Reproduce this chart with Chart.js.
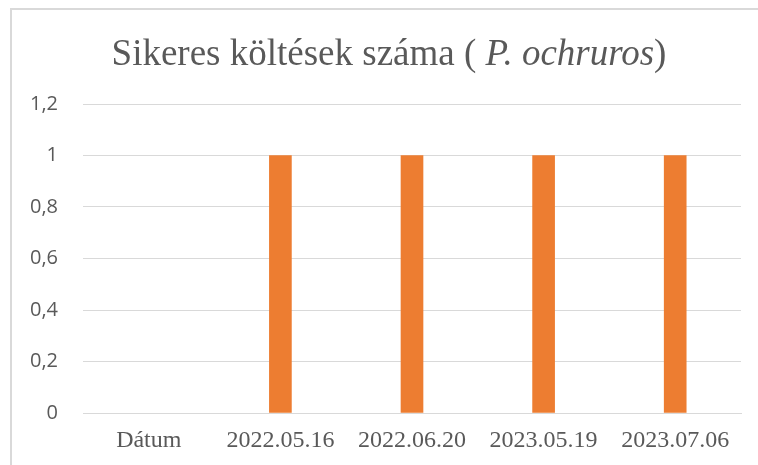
<!DOCTYPE html>
<html>
<head>
<meta charset="utf-8">
<script src="https://cdn.jsdelivr.net/npm/chart.js@4/dist/chart.umd.min.js"></script>
<style>
  html, body { margin: 0; padding: 0; background: #fff; }
  #wrap { position: relative; width: 758px; height: 465px; }
</style>
</head>
<body>
<div id="wrap"><canvas id="koltesChart" width="758" height="465"></canvas></div>
<script>
// Adatok
const categories = ['Dátum', '2022.05.16', '2022.06.20', '2023.05.19', '2023.07.06'];
const sikeresKoltesek = [null, 1, 1, 1, 1];
const yTicks = [0, 0.2, 0.4, 0.6, 0.8, 1, 1.2];

const titleParts = [
    { text: 'Sikeres költések száma ( ', italic: false },
    { text: 'P. ochruros', italic: true },
    { text: ')', italic: false }
];

// Cím és keret rajzolása
const decorPlugin = {
    id: 'decor',
    beforeDraw(chart) {
        const ctx = chart.ctx;
        ctx.save();
        ctx.fillStyle = '#d9d9d9';
        ctx.fillRect(10, 8, 2, 457);
        ctx.fillRect(10, 8, 748, 2);
        ctx.restore();
    },
    afterDraw(chart) {
        const ctx = chart.ctx;
        ctx.save();
        ctx.fillStyle = '#595959';
        ctx.textBaseline = 'alphabetic';
        const fontOf = p => (p.italic ? 'italic ' : '') + '37px "Liberation Serif", "Times New Roman", serif';
        let total = 0;
        titleParts.forEach(p => { ctx.font = fontOf(p); total += ctx.measureText(p.text).width; });
        let x = 389 - total / 2;
        titleParts.forEach(p => {
            ctx.font = fontOf(p);
            ctx.fillText(p.text, x, 65);
            x += ctx.measureText(p.text).width;
        });
        ctx.restore();
    }
};

const ctx = document.getElementById('koltesChart').getContext('2d');
new Chart(ctx, {
    type: 'bar',
    data: {
        labels: categories,
        datasets: [{
            label: 'Sikeres költések száma',
            data: sikeresKoltesek,
            backgroundColor: '#ed7d31',
            borderWidth: 0,
            barThickness: 22
        }]
    },
    options: {
        responsive: false,
        animation: false,
        layout: { padding: { top: 104, right: 17, left: 0, bottom: 0 } },
        plugins: {
            legend: { display: false },
            title: { display: false },
            tooltip: { enabled: false }
        },
        scales: {
            x: {
                grid: { display: false, drawTicks: false },
                border: { color: '#d9d9d9', width: 1 },
                ticks: {
                    color: '#595959',
                    padding: 13,
                    maxRotation: 0,
                    autoSkip: false,
                    font: { family: '"Liberation Serif", "Times New Roman", serif', size: 24 }
                },
                afterFit(scale) { scale.height = 52; }
            },
            y: {
                min: 0,
                max: 1.2,
                afterBuildTicks(scale) { scale.ticks = yTicks.map(v => ({ value: v })); },
                grid: { color: '#d9d9d9', lineWidth: 1, drawTicks: false },
                border: { display: false },
                ticks: {
                    color: '#595959',
                    padding: 25,
                    font: { family: '"Open Sans", "Liberation Sans", sans-serif', size: 20 },
                    callback: v => String(Math.round(v * 10) / 10).replace('.', ',')
                },
                afterFit(scale) { scale.width = 83; }
            }
        }
    },
    plugins: [decorPlugin]
});
</script>
</body>
</html>
